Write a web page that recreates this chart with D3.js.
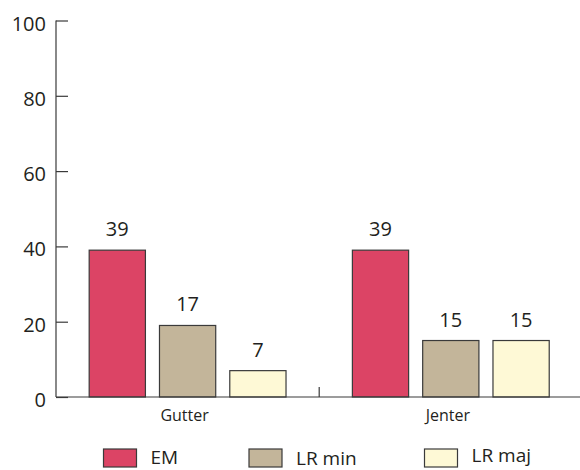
<!DOCTYPE html>
<html><head><meta charset="utf-8">
<script src="https://cdn.jsdelivr.net/npm/d3@7"></script>
<style>
html,body{margin:0;padding:0;background:#fff;}
svg{display:block;font-family:"Open Sans",sans-serif;}
</style></head>
<body><svg id="c" width="580" height="470"></svg>
<script>
const categories = ["Gutter", "Jenter"];
const seriesNames = ["EM", "LR min", "LR maj"];
const seriesColors = ["#DC4465", "#C3B59A", "#FEF9D6"];
const emValues = [39, 39];
const lrMinValues = [19, 15];
const lrMajValues = [7, 15];
const emLabels = ["39", "39"];
const lrMinLabels = ["17", "15"];
const lrMajLabels = ["7", "15"];
const yTicks = [0, 20, 40, 60, 80, 100];

const seriesValues = [emValues, lrMinValues, lrMajValues];
const seriesLabels = [emLabels, lrMinLabels, lrMajLabels];

const svg = d3.select("#c");
const x0 = 56, xEnd = 582.4, yTop = 20.5, yBot = 397;
const textCol = "#231f20", lineCol = "#3a3a3a";

const y = d3.scaleLinear().domain([0, 100]).range([yBot, yTop]);
const x = d3.scaleBand().domain(categories).range([x0, xEnd]).paddingInner(0).paddingOuter(0);
const xs = d3.scaleBand().domain(seriesNames).range([0, x.bandwidth()]).paddingInner(0.2).paddingOuter(0.472);

// bars
const rows = [];
categories.forEach((c, ci) => seriesNames.forEach((s, si) => {
  rows.push({c, s, si, v: seriesValues[si][ci], lab: seriesLabels[si][ci]});
}));
svg.append("g").selectAll("rect").data(rows).join("rect")
  .attr("x", d => x(d.c) + xs(d.s))
  .attr("y", d => y(d.v))
  .attr("width", xs.bandwidth())
  .attr("height", d => yBot - y(d.v))
  .attr("fill", d => seriesColors[d.si])
  .attr("stroke", lineCol).attr("stroke-width", 1.2);

svg.append("g").selectAll("text").data(rows).join("text")
  .attr("x", d => x(d.c) + xs(d.s) + xs.bandwidth() / 2)
  .attr("y", d => y(d.v) - 14)
  .attr("text-anchor", "middle")
  .attr("font-size", 20).attr("fill", textCol)
  .text(d => d.lab);

// y axis
const yAxis = svg.append("g").attr("transform", `translate(${x0},0)`)
  .call(d3.axisRight(y).tickValues(yTicks).tickSize(12).tickFormat(""));
yAxis.select(".domain").attr("d", `M0,${yTop}V${yBot}`).attr("stroke", lineCol).attr("stroke-width", 1.2);
yAxis.selectAll(".tick line").attr("stroke", lineCol).attr("stroke-width", 1.2);
svg.append("g").selectAll("text").data(yTicks).join("text")
  .attr("x", 46).attr("y", d => y(d) + 10)
  .attr("text-anchor", "end").attr("font-size", 20).attr("fill", textCol)
  .text(d => d);

// x axis
const xAxis = svg.append("g").attr("transform", `translate(0,${yBot})`)
  .call(d3.axisBottom(x).tickSize(0).tickFormat(""));
xAxis.select(".domain").attr("d", `M${x0},0H${xEnd}`).attr("stroke", lineCol).attr("stroke-width", 1.2);
xAxis.selectAll(".tick").remove();
svg.append("g").selectAll("line").data(categories.slice(1)).join("line")
  .attr("x1", d => x(d)).attr("x2", d => x(d))
  .attr("y1", yBot).attr("y2", yBot - 10)
  .attr("stroke", lineCol).attr("stroke-width", 1.2);
svg.append("g").selectAll("text").data(categories).join("text")
  .attr("x", d => x(d) + x.bandwidth() / 2 - 3)
  .attr("y", 421)
  .attr("text-anchor", "middle").attr("font-size", 16).attr("fill", textCol)
  .text(d => d);

// legend
const legX = [103.5, 249, 424.5];
const legDy = [-1, 0, -3];
const leg = svg.append("g").selectAll("g").data(seriesNames).join("g")
  .attr("transform", (d, i) => `translate(${legX[i]},449)`);
leg.append("rect").attr("width", 33).attr("height", 18)
  .attr("fill", (d, i) => seriesColors[i]).attr("stroke", lineCol).attr("stroke-width", 1.2);
leg.append("text").attr("x", 47).attr("y", (d, i) => 16 + legDy[i])
  .attr("font-size", 19).attr("fill", textCol).text(d => d);
</script></body></html>
